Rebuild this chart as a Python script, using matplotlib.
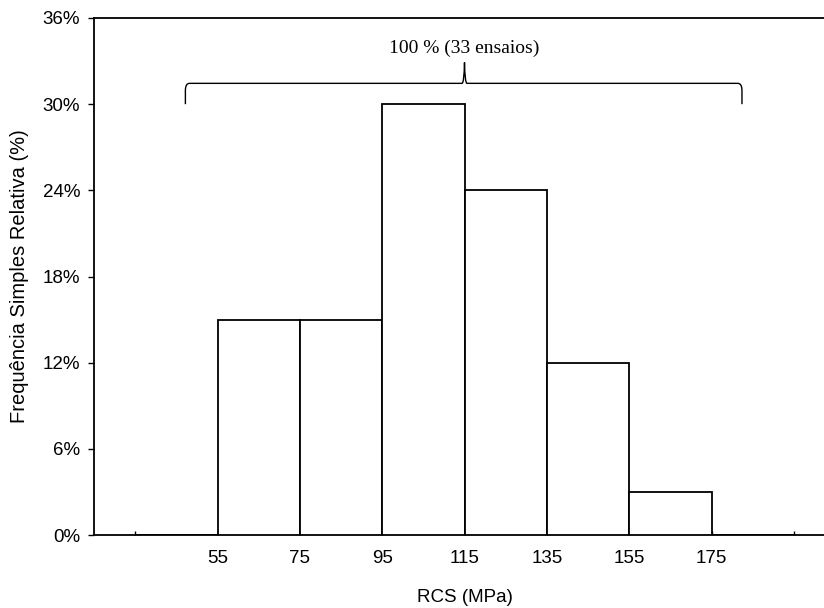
import matplotlib
matplotlib.use("Agg")
import matplotlib.pyplot as plt
from matplotlib.path import Path
from matplotlib.patches import PathPatch
import numpy as np

bin_left = [35, 55, 75, 95, 115, 135, 155, 175]
freq = [0, 15, 15, 30, 24, 12, 3, 0]
tick_pos = [35, 55, 75, 95, 115, 135, 155, 175, 195]
tick_labels = ["", "55", "75", "95", "115", "135", "155", "175", ""]
yticks = [0, 6, 12, 18, 24, 30, 36]
bracket_text = "100 % (33 ensaios)"

plt.rcParams['font.family'] = ['Liberation Sans', 'DejaVu Sans']
fig = plt.figure(figsize=(8.24, 6.08), dpi=100)
ax = fig.add_axes([94/824, 73/608, (835-94)/824, (535-18)/608])

ax.bar(bin_left, freq, width=20, align='edge', facecolor='white',
       edgecolor='black', linewidth=1.3, zorder=3)

ax.set_xlim(25, 205)
ax.set_ylim(0, 36)
ax.set_yticks(yticks)
ax.set_yticklabels([f"{v}%" for v in yticks], fontsize=13.5)
ax.set_xticks(tick_pos)
ax.set_xticklabels(tick_labels, fontsize=13.5)
ax.tick_params(axis='x', direction='in', length=3, width=1, pad=11)
ax.tick_params(axis='y', direction='out', length=4, width=1, pad=6)
for s in ['left', 'bottom', 'top']:
    ax.spines[s].set_linewidth(1.3)
ax.spines['right'].set_visible(False)

ax.set_xlabel("RCS (MPa)", fontsize=13.5, labelpad=16)
ax.set_ylabel("Frequência Simples Relativa (%)", fontsize=14.5, labelpad=10)

# bracket
x0, x1, xc = 47.2, 182.4, 115.0
yb, yh, yp = 30.0, 31.45, 32.9
verts = [
    (x0, yb), (x0, yh - 0.5), (x0, yh), (x0 + 1.0, yh),
    (xc - 0.6, yh), (xc - 0.1, yh), (xc, yp),
    (xc + 0.1, yh), (xc + 0.6, yh),
    (x1 - 1.0, yh), (x1, yh), (x1, yh - 0.5), (x1, yb),
]
codes = [Path.MOVETO, Path.LINETO, Path.CURVE3, Path.CURVE3,
         Path.LINETO, Path.CURVE3, Path.CURVE3,
         Path.CURVE3, Path.CURVE3,
         Path.LINETO, Path.CURVE3, Path.CURVE3, Path.LINETO]
ax.add_patch(PathPatch(Path(verts, codes), facecolor='none', edgecolor='black',
                       linewidth=1.0, clip_on=False))
ax.text(xc, 33.9, bracket_text, ha='center', va='center', fontsize=14,
        family=['Liberation Serif', 'DejaVu Serif'])

fig.savefig("out.png", dpi=100)
